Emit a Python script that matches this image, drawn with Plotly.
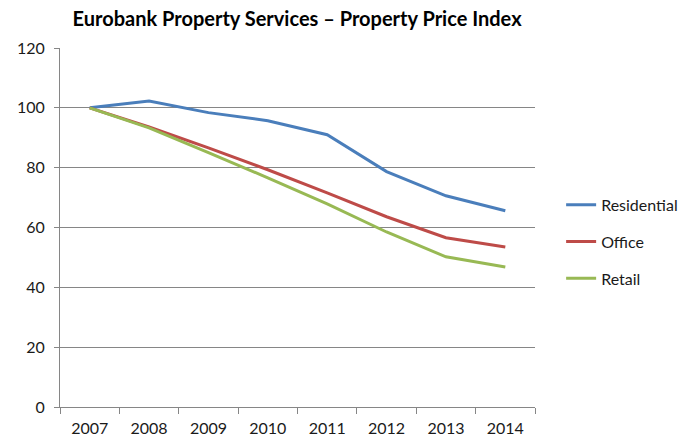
import plotly.graph_objects as go

years = ["2007", "2008", "2009", "2010", "2011", "2012", "2013", "2014"]
residential = [100, 102.3, 98.4, 95.7, 91.0, 78.7, 70.6, 65.6]
office = [100, 93.6, 86.6, 79.3, 71.6, 63.6, 56.6, 53.5]
retail = [100, 93.3, 85.0, 76.6, 67.9, 58.5, 50.2, 46.8]

series = [("Residential", residential, "#4A7EBB"),
          ("Office", office, "#BE4B48"),
          ("Retail", retail, "#98B954")]

fig = go.Figure()
for name, vals, col in series:
    fig.add_trace(go.Scatter(x=years, y=vals, name=name, mode="lines",
                             legendgroup=name,
                             line=dict(color=col, width=3)))

fig.update_layout(
    width=699, height=443,
    margin=dict(l=60, r=164, t=48, b=36),
    paper_bgcolor="white", plot_bgcolor="white",
    font=dict(family="Lato", size=16, color="#1a1a1a"),
    title=dict(text="<b>Eurobank Property Services – Property Price Index</b>",
               x=0.425, xanchor="center", y=0.958, yanchor="middle",
               font=dict(family="Lato", size=20, color="black")),
    showlegend=True,
    legend=dict(x=1.055, xanchor="left", y=0.46, yanchor="middle",
                tracegroupgap=13, font=dict(size=16, color="#1a1a1a"),
                bgcolor="rgba(0,0,0,0)"),
    xaxis=dict(type="category", tickson="boundaries", ticks="outside",
               ticklen=6, tickcolor="#868686", showline=True,
               linecolor="#868686", linewidth=1, showgrid=False,
               ticklabelstandoff=7, automargin=False,
               range=[-0.5, 7.5], fixedrange=True),
    yaxis=dict(range=[0, 120], dtick=20, ticks="outside", ticklen=5,
               tickcolor="#868686", showline=True, linecolor="#868686",
               linewidth=1, showgrid=True, gridcolor="#868686",
               ticklabelstandoff=6, automargin=False,
               gridwidth=1, zeroline=False, fixedrange=True),
)

fig.write_html("out.html")
